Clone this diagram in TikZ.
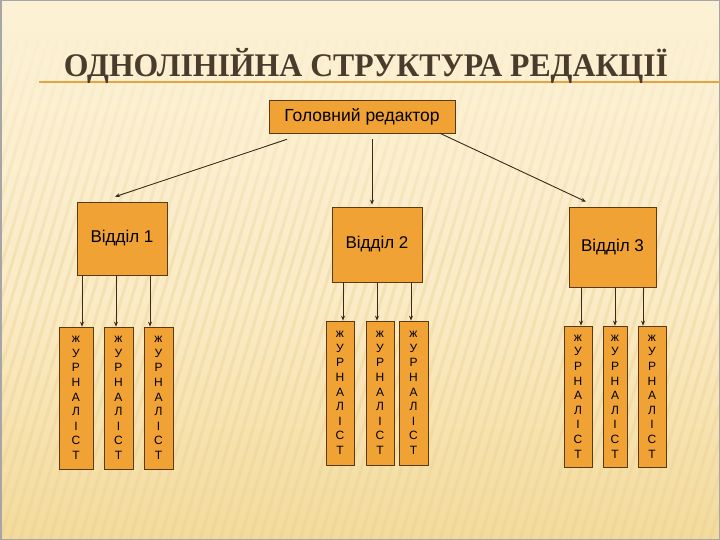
\documentclass[tikz,border=0pt]{standalone}
\usepackage{fontspec}
\setmainfont{Liberation Sans}
\newfontfamily\titlefont{Liberation Serif}
\usetikzlibrary{arrows.meta,fadings}
\definecolor{bgtop}{HTML}{FCF1D4}
\definecolor{bgmid}{HTML}{FBEBC6}
\definecolor{bgbot}{HTML}{F3DB9C}
\definecolor{stripe}{HTML}{E9CF8E}
\definecolor{boxfill}{HTML}{F0A234}
\definecolor{boxline}{HTML}{5A3A12}
\definecolor{titlecol}{HTML}{4A3C2C}
\definecolor{ruleorange}{HTML}{E3A445}
\definecolor{arrcol}{HTML}{3A2A1A}
\tikzfading[name=topcover, top color=transparent!0, bottom color=transparent!100]
\tikzset{
  obox/.style={draw=boxline, line width=0.6pt, fill=boxfill, inner sep=0pt, text=black},
  head/.style={obox, minimum width=186pt, minimum height=33pt, font=\fontsize{17.5}{20}\selectfont},
  dept/.style={obox, font=\fontsize{17}{20}\selectfont},
  jour/.style={obox, minimum width=28pt, minimum height=142pt, align=center,
    font=\fontsize{12}{14.6}\selectfont},
  arr/.style={draw=arrcol, line width=0.9pt, -{Stealth[length=5pt,width=4pt]}}
}
\newcommand{\jtext}{ж\\У\\Р\\Н\\А\\Л\\І\\С\\Т}
\begin{document}
\begin{tikzpicture}[x=1pt,y=-1pt]
\useasboundingbox (0,0) rectangle (720,540);
% background
\shade[top color=bgtop, bottom color=bgmid] (0,0) rectangle (720,300);
\shade[top color=bgmid, bottom color=bgbot] (0,300) rectangle (720,540);
\begin{scope}
\clip (0,40) rectangle (720,540);
\foreach \i in {0,10,...,900} {
  \draw[stripe, line width=3pt, opacity=0.35] (\i-160,540) -- (\i,0);
}
\end{scope}
\fill[bgtop, path fading=topcover] (0,0) rectangle (720,260);
\draw[gray!70, line width=1.5pt] (0.75,0.75) rectangle (719.25,539.25);
% title
\draw[ruleorange, line width=1.6pt] (39,82) -- (720,82);
\node[anchor=base, text=titlecol, inner sep=0pt] (title) at (366,77)
  {\resizebox{604pt}{\height}{\titlefont\bfseries\fontsize{33}{35}\selectfont ОДНОЛІНІЙНА СТРУКТУРА РЕДАКЦІЇ}};
% head
\node[head] (hd) at (362,116.5) {Головний редактор};
% departments
\node[dept, minimum width=90pt, minimum height=73pt] (d1) at (122,238.5) {Відділ 1};
\node[dept, minimum width=90pt, minimum height=75pt] (d2) at (377,244.5) {Відділ 2};
\node[dept, minimum width=87pt, minimum height=80pt] (d3) at (612.5,247) {Відділ 3};
% journalists
\node[jour, minimum width=34pt] (j11) at (76,398) {\jtext};
\node[jour, minimum width=29pt] (j12) at (118.5,398) {\jtext};
\node[jour, minimum width=29pt] (j13) at (158.5,398) {\jtext};
\node[jour, minimum height=144pt] (j21) at (340,393) {\jtext};
\node[jour, minimum height=144pt] (j22) at (380,393) {\jtext};
\node[jour, minimum width=29pt, minimum height=144pt] (j23) at (413.5,393) {\jtext};
\node[jour, minimum height=141pt] (j31) at (578,396.5) {\jtext};
\node[jour, minimum width=24pt, minimum height=141pt] (j32) at (615,396.5) {\jtext};
\node[jour, minimum height=141pt] (j33) at (652,396.5) {\jtext};
% arrows head -> departments
\draw[arr] ([xshift=-75pt,yshift=-6pt]hd.south) -- ([xshift=-7pt,yshift=5pt]d1.north);
\draw[arr] ([xshift=10pt,yshift=-6pt]hd.south) -- ([xshift=-5pt,yshift=2pt]d2.north);
\draw[arr] ([xshift=78pt]hd.south) -- ([xshift=-26.5pt,yshift=5pt]d3.north);
% arrows departments -> journalists
\coordinate (t11) at ([xshift=6pt]j11.north);
\coordinate (t12) at ([xshift=-2.5pt]j12.north);
\coordinate (t13) at ([xshift=-8.5pt]j13.north);
\coordinate (t21) at ([xshift=3pt]j21.north);
\coordinate (t22) at ([xshift=-3pt]j22.north);
\coordinate (t23) at ([xshift=-2.5pt]j23.north);
\coordinate (t31) at ([xshift=3pt]j31.north);
\coordinate (t32) at (j32.north);
\coordinate (t33) at ([xshift=-9pt]j33.north);
\foreach \t in {t11,t12,t13} \draw[arr] (\t |- d1.south) -- (\t);
\foreach \t in {t21,t22,t23} \draw[arr] (\t |- d2.south) -- (\t);
\foreach \t in {t31,t32,t33} \draw[arr] (\t |- d3.south) -- (\t);
\end{tikzpicture}
\end{document}
